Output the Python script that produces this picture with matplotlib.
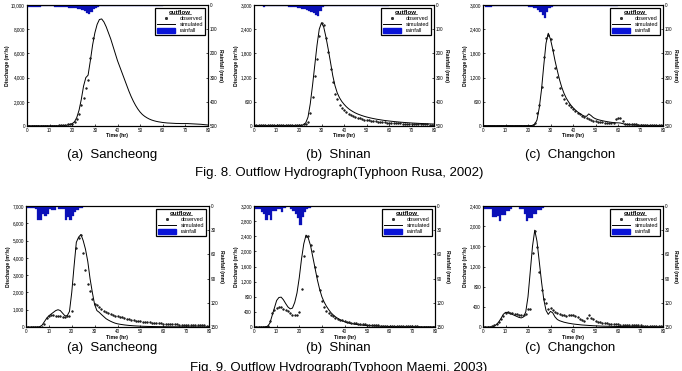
#!/usr/bin/env python3
"""Outflow hydrographs, Typhoon Rusa (2002) and Maemi (2003) - six panels."""
import numpy as np
import matplotlib
matplotlib.use("Agg")
import matplotlib.pyplot as plt
from matplotlib.lines import Line2D
from matplotlib.patches import Patch
from matplotlib.ticker import FuncFormatter

BLUE = "#0a10b8"
FONT = "Liberation Sans"

plt.rcParams.update({
    "font.family": FONT,
    "axes.linewidth": 0.8,
    "xtick.direction": "in",
    "ytick.direction": "in",
    "xtick.major.size": 1.5,
    "ytick.major.size": 1.5,
    "xtick.major.width": 0.5,
    "ytick.major.width": 0.5,
    "xtick.major.pad": 1.5,
    "ytick.major.pad": 1.5,
})

# ---- Typhoon Rusa, 2002 ----
rusa_sanch_obs = [30, 30, 30, 30, 30, 30, 30, 30, 30, 30,
                  30, 30, 30, 40, 50, 60, 80, 120, 150, 170,
                  200, 300, 550, 1000, 1700, 2300, 3100, 3800, 5600, 7300]
rusa_sanch_sim = [20, 20, 20, 20, 20, 20, 20, 20, 20, 20,
                  20, 20, 20, 20, 20, 25, 30, 50, 80, 120,
                  200, 350, 700, 1300, 2200, 3300, 4000, 4200, 5400, 6700,
                  7700, 8400, 8800, 8850, 8600, 8200, 7700, 7200, 6600, 6000,
                  5400, 4900, 4400, 3900, 3400, 2900, 2450, 2050, 1700, 1400,
                  1150, 950, 800, 680, 580, 500, 440, 390, 350, 320,
                  290, 270, 250, 240, 230, 220, 210, 210, 200, 200,
                  200, 200, 190, 180, 170, 160, 150, 140, 120, 100, 80]
rusa_sanch_rain = [8, 9, 9, 8, 7, 7, 6, 6, 6, 6,
                   6, 6, 7, 7, 8, 8, 9, 10, 11, 12,
                   13, 14, 16, 18, 21, 26, 33, 37, 28, 18,
                   11, 8, 6, 6, 5, 5, 5, 5, 5, 5,
                   5, 5, 5, 5, 5, 5, 5, 5, 5, 5,
                   4, 4, 4, 4, 4, 4, 4, 4, 4, 4]

rusa_shinan_obs = [20, 20, 20, 20, 20, 20, 20, 20, 20, 20,
                   20, 20, 20, 20, 20, 20, 20, 20, 20, 20,
                   20, 25, 40, 60, 100, 330, 720, 1230, 1660, 2240,
                   2550, 2500, 2180, 1830, 1410, 1100, 800, 660, 530, 450,
                   400, 340, 300, 270, 245, 225, 205, 190, 175, 160,
                   150, 140, 130, 122, 115, 108, 102, 96, 91, 86,
                   82, 78, 74, 70, 67, 64, 61, 58, 56, 54,
                   52, 50, 48, 46, 44, 42, 40, 38, 37, 36, 34]
rusa_shinan_sim = [10, 10, 10, 10, 10, 10, 10, 10, 10, 10,
                   10, 10, 10, 10, 10, 10, 10, 10, 10, 10,
                   10, 15, 30, 80, 220, 550, 1000, 1500, 2000, 2400,
                   2560, 2450, 2200, 1900, 1580, 1250, 1000, 820, 700, 610,
                   540, 480, 430, 390, 355, 325, 300, 278, 258, 240,
                   224, 210, 197, 185, 174, 164, 155, 146, 138, 131,
                   124, 118, 112, 106, 101, 96, 91, 87, 83, 79,
                   75, 72, 69, 66, 63, 60, 57, 55, 53, 51, 49]
rusa_shinan_rain = [0, 0, 0, 0, 7, 6, 6, 6, 6, 6,
                    6, 6, 6, 6, 6, 7, 8, 9, 10, 12,
                    14, 16, 18, 21, 24, 28, 33, 40, 45, 25,
                    10, 6, 5, 5, 5, 5, 5, 5, 5, 5,
                    5, 5, 5, 5, 5, 5, 5, 5, 5, 5,
                    4, 4, 4, 4, 4, 4, 4, 4, 4, 4]

rusa_chang_obs = [10, 10, 10, 10, 10, 10, 10, 10, 10, 10,
                  10, 10, 10, 10, 10, 10, 10, 10, 10, 10,
                  10, 10, 20, 80, 330, 510, 970, 1710, 2180, 2260,
                  2150, 1890, 1440, 1220, 945, 780, 660, 580, 520, 470,
                  420, 370, 330, 290, 250, 215, 190, 165, 150, 135,
                  120, 110, 100, 92, 85, 78, 72, 66, 62, 170,
                  190, 190, 130, 60, 50, 45, 42, 40, 38, 35,
                  32, 30, 28, 26, 25, 24, 23, 22, 21, 20, 20]
rusa_chang_sim = [10, 10, 10, 10, 10, 10, 10, 10, 10, 10,
                  10, 10, 10, 10, 10, 10, 10, 10, 10, 10,
                  10, 10, 15, 40, 150, 450, 900, 1500, 2050, 2300,
                  2150, 1900, 1620, 1380, 1150, 960, 810, 690, 600, 520,
                  455, 400, 350, 310, 275, 245, 240, 300, 260, 210,
                  180, 160, 145, 132, 120, 110, 100, 92, 85, 80,
                  78, 75, 60, 45, 35, 30, 27, 25, 23, 21,
                  19, 17, 16, 15, 14, 13, 12, 11, 10, 10, 10]
rusa_chang_rain = [0, 7, 7, 7, 6, 6, 6, 6, 6, 6,
                   6, 6, 6, 6, 6, 6, 6, 6, 6, 6,
                   7, 9, 11, 14, 19, 28, 42, 55, 30, 12,
                   7, 5, 5, 5, 5, 5, 5, 5, 5, 5,
                   5, 5, 5, 5, 5, 5, 5, 5, 5, 5,
                   4, 4, 4, 4, 4, 4, 4, 4, 4, 4]

# ---- Typhoon Maemi, 2003 ----
maemi_sanch_obs = [0, 0, 0, 0, 0, 0, 0, 20, 200, 500,
                   650, 700, 680, 650, 640, 620, 600, 600, 620, 650,
                   950, 2500, 4550, 5150, 5300, 4300, 3300, 2500, 2100, 1600,
                   1350, 1250, 1150, 1050, 950, 870, 800, 750, 700, 660,
                   620, 580, 550, 510, 480, 450, 420, 395, 370, 350,
                   330, 310, 295, 280, 265, 250, 238, 226, 215, 205,
                   195, 185, 177, 170, 163, 156, 150, 144, 138, 132,
                   126, 120, 115, 110, 105, 100, 96, 92, 88, 84, 80]
maemi_sanch_sim = [0, 0, 0, 0, 0, 0, 20, 100, 300, 500,
                   650, 750, 850, 950, 1000, 950, 800, 650, 650, 900,
                   2000, 3500, 4900, 5200, 5350, 5000, 4500, 3800, 2800, 2000,
                   1300, 950, 850, 720, 600, 480, 400, 330, 270, 220,
                   185, 160, 140, 120, 105, 92, 80, 70, 62, 55,
                   48, 43, 38, 34, 31, 28, 25, 23, 21, 19,
                   17, 16, 15, 14, 13, 12, 11, 10, 10, 9,
                   9, 8, 8, 7, 7, 6, 6, 5, 5, 5, 5]
maemi_sanch_rain = [3, 3, 3, 3, 4, 17, 17, 10, 13, 10,
                    4, 5, 5, 0, 4, 4, 4, 17, 14, 17,
                    12, 8, 5, 3, 2]

maemi_shinan_obs = [0, 0, 0, 0, 0, 0, 20, 160, 360, 460,
                    500, 520, 520, 480, 450, 420, 380, 320, 310, 320,
                    400, 1000, 1870, 2400, 2400, 2180, 2000, 1580, 1340, 970,
                    700, 525, 430, 380, 330, 290, 250, 220, 195, 175,
                    155, 140, 127, 115, 105, 95, 87, 80, 73, 67,
                    62, 57, 53, 49, 45, 42, 39, 36, 33, 31,
                    29, 27, 25, 24, 22, 21, 20, 19, 18, 17,
                    16, 15, 14, 13, 12, 12, 11, 11, 10, 10, 10]
maemi_shinan_sim = [0, 0, 0, 0, 0, 5, 20, 100, 300, 500,
                    700, 780, 790, 720, 620, 530, 480, 500, 650, 900,
                    1300, 1800, 2200, 2430, 2350, 2150, 1850, 1550, 1250, 1000,
                    800, 660, 550, 460, 380, 320, 270, 230, 190, 165,
                    140, 120, 105, 92, 80, 70, 62, 55, 48, 43,
                    38, 34, 30, 27, 24, 22, 20, 18, 16, 15,
                    14, 13, 12, 11, 10, 9, 8, 8, 7, 7,
                    6, 6, 5, 5, 5, 5, 4, 4, 4, 4, 4]
maemi_shinan_rain = [4, 4, 4, 8, 10, 17, 11, 17, 6, 6,
                     4, 4, 8, 3, 0, 0, 4, 6, 10, 15,
                     24, 14, 8, 4, 2]

maemi_chang_obs = [0, 0, 0, 0, 10, 30, 60, 100, 150, 220,
                   280, 290, 280, 270, 260, 250, 240, 230, 240, 260,
                   350, 360, 1470, 1900, 1580, 1100, 740, 550, 480, 350,
                   380, 330, 300, 270, 250, 240, 230, 220, 230, 230,
                   230, 210, 190, 160, 140, 120, 170, 230, 180, 150,
                   120, 100, 90, 80, 75, 70, 65, 60, 55, 52,
                   50, 47, 45, 42, 40, 38, 36, 34, 32, 30,
                   30, 28, 27, 26, 25, 24, 23, 22, 21, 20, 20]
maemi_chang_sim = [0, 0, 0, 0, 0, 20, 50, 100, 170, 250,
                   290, 290, 270, 250, 230, 210, 190, 180, 200, 300,
                   600, 1100, 1600, 1920, 1700, 1300, 900, 550, 330, 250,
                   310, 280, 200, 150, 125, 110, 95, 85, 75, 68,
                   60, 55, 50, 45, 40, 37, 34, 31, 28, 25,
                   23, 21, 19, 17, 16, 15, 14, 13, 12, 11,
                   10, 9, 9, 8, 8, 7, 7, 6, 6, 6,
                   5, 5, 5, 5, 5, 4, 4, 4, 4, 4, 4]
maemi_chang_rain = [4, 4, 4, 4, 14, 14, 12, 18, 11, 11,
                    6, 6, 4, 0, 0, 0, 4, 4, 10, 19,
                    15, 15, 10, 10, 5, 5, 3]

captions = ["(a)  Sancheong", "(b)  Shinan", "(c)  Changchon"]

PANELS = [
    # obs, sim, rain, ymax, ystep, rmax, rstep
    (rusa_sanch_obs, rusa_sanch_sim, rusa_sanch_rain, 10000, 2000, 500, 100),
    (rusa_shinan_obs, rusa_shinan_sim, rusa_shinan_rain, 3000, 600, 500, 100),
    (rusa_chang_obs, rusa_chang_sim, rusa_chang_rain, 3000, 600, 500, 100),
    (maemi_sanch_obs, maemi_sanch_sim, maemi_sanch_rain, 7000, 1000, 150, 30),
    (maemi_shinan_obs, maemi_shinan_sim, maemi_shinan_rain, 3200, 400, 150, 30),
    (maemi_chang_obs, maemi_chang_sim, maemi_chang_rain, 2400, 400, 150, 30),
]

W, H = 682, 371
fig = plt.figure(figsize=(W / 100, H / 100), dpi=100)

# axes boxes in pixels: left, top, right, bottom
BOXES = [
    (27, 5, 208, 126), (254, 5, 434, 126), (483, 5, 663, 126),
    (26, 206, 209, 327), (254, 206, 435, 327), (483, 206, 663, 327),
]

TICK_FS = 3.3
LAB_FS = 3.7
comma = FuncFormatter(lambda v, _: f"{v:,.0f}")
legends = []

for (l, t, r, b), (obs, sim, rain, ymax, ystep, rmax, rstep) in zip(BOXES, PANELS):
    ax = fig.add_axes([l / W, 1 - b / H, (r - l) / W, (b - t) / H])
    ax.plot(np.arange(len(sim)), sim, color="black", lw=0.7, zorder=3)
    ax.plot(np.arange(len(obs)), obs, ls="none", marker="o", ms=1.3,
            mfc="#222222", mec="black", mew=0.3, zorder=4)
    ax.set_xlim(0, 80)
    ax.set_ylim(0, ymax)
    ax.set_xticks(np.arange(0, 81, 10))
    ax.set_yticks(np.arange(0, ymax + 1, ystep))
    ax.yaxis.set_major_formatter(comma)
    ax.tick_params(labelsize=TICK_FS)
    ax.set_xlabel("Time (hr)", fontsize=LAB_FS, fontweight="bold", labelpad=0.3)
    ax.set_ylabel("Discharge (m³/s)", fontsize=LAB_FS, fontweight="bold", labelpad=1)

    ax2 = ax.twinx()
    ax2.bar(np.arange(len(rain)), rain, width=1.0, align="edge",
            color=BLUE, edgecolor=BLUE, lw=0.2)
    ax2.set_ylim(rmax, 0)
    ax2.set_yticks(np.arange(0, rmax + 1, rstep))
    ax2.tick_params(labelsize=TICK_FS)
    ax2.set_ylabel("Rainfall (mm)", fontsize=LAB_FS, fontweight="bold",
                   rotation=270, labelpad=4)

    handles = [
        Line2D([], [], ls="none", marker="o", ms=1.7, mfc="#333333", mec="black", mew=0.4),
        Line2D([], [], color="black", lw=0.7),
        Patch(facecolor="#0a14d8", edgecolor="#0a14d8"),
    ]
    leg = ax2.legend(handles, ["observed", "simulated", "rainfall"],
                     title="outflow", loc="upper right", fontsize=4.0,
                     title_fontproperties={"family": FONT, "weight": "bold", "size": 4.4},
                     frameon=True, fancybox=False, edgecolor="black",
                     framealpha=1, borderaxespad=0.5, borderpad=0.4,
                     handlelength=3.2, handleheight=0.9, labelspacing=0.15,
                     handletextpad=0.8)
    leg.get_frame().set_linewidth(0.9)
    legends.append(leg)

# sub-captions and figure titles
for x, cap in zip([112, 338, 570], captions):
    fig.text(x / W, 1 - 155 / H, cap, ha="center", va="center", fontsize=9.5)
    fig.text(x / W, 1 - 347.5 / H, cap, ha="center", va="center", fontsize=9.5)
fig.text(339 / W, 1 - 173 / H, "Fig. 8. Outflow Hydrograph(Typhoon Rusa, 2002)",
         ha="center", va="center", fontsize=9.5)
fig.text(339 / W, 1 - 362 / H, "Fig. 9. Outflow Hydrograph(Typhoon Maemi, 2003)",
         ha="center", va="top", fontsize=9.5)

# underline the legend titles
fig.canvas.draw()
inv = fig.transFigure.inverted()
for leg in legends:
    bb = leg.get_title().get_window_extent()
    (x0, y0), (x1, _) = inv.transform([(bb.x0, bb.y0), (bb.x1, bb.y1)])
    fig.add_artist(Line2D([x0, x1], [y0 + 0.002, y0 + 0.002],
                          transform=fig.transFigure, color="black", lw=0.4))

fig.savefig("out.png", dpi=100)
